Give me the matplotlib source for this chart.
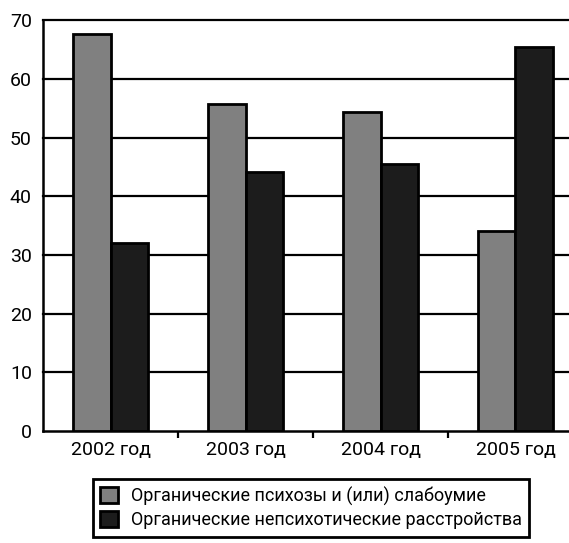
import numpy as np
import matplotlib.pyplot as plt
from matplotlib.patches import Patch

plt.rcParams["font.family"] = ["Roboto", "DejaVu Sans"]

years = ["2002 год", "2003 год", "2004 год", "2005 год"]
psychoses = [67.6, 55.7, 54.3, 34.1]
nonpsychotic = [32.0, 44.1, 45.5, 65.5]
labels = ["Органические психозы и (или) слабоумие",
          "Органические непсихотические расстройства"]

GRAY = "#808080"
DARK = "#1c1c1c"

fig = plt.figure(figsize=(5.69, 5.43), dpi=100)
# axes run slightly past the right edge of the canvas
ax = fig.add_axes([0.0756, 0.206, 0.949, 0.757])

x = np.arange(len(years))
w = 0.28
ax.bar(x - w / 2, psychoses, w, color=GRAY, edgecolor="black", linewidth=2, zorder=3)
ax.bar(x + w / 2, nonpsychotic, w, color=DARK, edgecolor="black", linewidth=2, zorder=3)

ax.set_xlim(-0.5, len(years) - 0.5)
ax.set_ylim(0, 70)
ax.set_yticks(range(0, 71, 10))
for v in range(10, 71, 10):
    ax.axhline(v, color="black", linewidth=1.6, zorder=1, clip_on=False)

ax.set_xticks(x)
ax.set_xticklabels(years)
ax.set_xticks(np.arange(0.5, len(years) - 0.5, 1), minor=True)
ax.tick_params(axis="x", which="major", length=0, pad=7, labelsize=14)
ax.tick_params(axis="x", which="minor", length=5, width=1.6, direction="out")
ax.tick_params(axis="y", length=0, pad=8, labelsize=14)

for s in ["top", "right"]:
    ax.spines[s].set_visible(False)
for s in ["left", "bottom"]:
    ax.spines[s].set_linewidth(1.8)

handles = [Patch(facecolor=GRAY, edgecolor="black", linewidth=2, label=labels[0]),
           Patch(facecolor=DARK, edgecolor="black", linewidth=2, label=labels[1])]
leg = fig.legend(handles=handles, loc="center", bbox_to_anchor=(0.546, 0.0645),
                 fontsize=13, frameon=True, fancybox=False, framealpha=1,
                 handlelength=1.0, handleheight=1.0, handletextpad=0.7,
                 borderpad=0.4, labelspacing=0.3, borderaxespad=0)
leg.get_frame().set_edgecolor("black")
leg.get_frame().set_linewidth(2)

fig.savefig("out.png", dpi=100, facecolor="white")
